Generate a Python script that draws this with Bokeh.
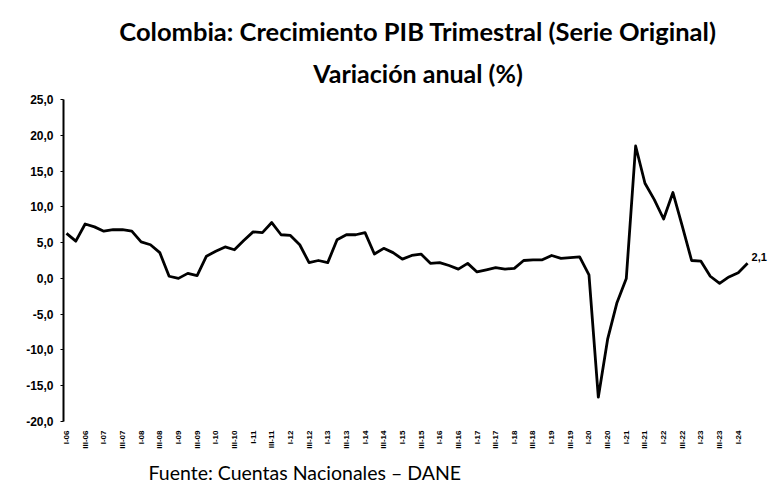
from bokeh.plotting import figure
from bokeh.models import Range1d, FixedTicker, Title, Label
from bokeh.embed import file_html
from bokeh.resources import INLINE

# Quarterly annual growth (%) of Colombian GDP, original series, Q1-2006 .. Q2-2024
values = [6.3, 5.2, 7.6, 7.2, 6.6, 6.8, 6.8, 6.6, 5.1, 4.7,
          3.6, 0.3, 0.0, 0.7, 0.4, 3.1, 3.8, 4.4, 4.0, 5.3,
          6.5, 6.4, 7.8, 6.1, 6.0, 4.7, 2.2, 2.5, 2.2, 5.4,
          6.1, 6.1, 6.4, 3.4, 4.2, 3.6, 2.7, 3.2, 3.4, 2.1,
          2.2, 1.8, 1.3, 2.1, 0.9, 1.2, 1.5, 1.3, 1.4, 2.5,
          2.6, 2.6, 3.2, 2.8, 2.9, 3.0, 0.5, -16.6, -8.5, -3.4,
          0.0, 18.5, 13.3, 11.0, 8.3, 12.0, 7.3, 2.5, 2.4, 0.3,
          -0.7, 0.2, 0.8, 2.1]
quarter_index = list(range(len(values)))

tick_labels = ["I-06", "III-06", "I-07", "III-07", "I-08", "III-08", "I-09", "III-09",
               "I-10", "III-10", "I-11", "III-11", "I-12", "III-12", "I-13", "III-13",
               "I-14", "III-14", "I-15", "III-15", "I-16", "III-16", "I-17", "III-17",
               "I-18", "III-18", "I-19", "III-19", "I-20", "III-20", "I-21", "III-21",
               "I-22", "III-22", "I-23", "III-23", "I-24"]
tick_positions = list(range(0, len(values), 2))

y_ticks = [25, 20, 15, 10, 5, 0, -5, -10, -15, -20]
y_tick_labels = ["25,0", "20,0", "15,0", "10,0", "5,0", "0,0", "-5,0", "-10,0", "-15,0", "-20,0"]

last_label = "2,1"

p = figure(width=772, height=491, output_backend="svg", toolbar_location=None,
           x_range=Range1d(-0.32, 75.67), y_range=Range1d(-20, 25),
           min_border_left=63, min_border_right=0, min_border_top=99, min_border_bottom=70)
p.outline_line_color = None
p.grid.grid_line_color = None
p.background_fill_color = "white"
p.border_fill_color = "white"

p.line(quarter_index, values, line_color="black", line_width=2.8, line_join="round")

p.add_layout(Label(x=quarter_index[-1], y=values[-1], text=last_label, x_offset=4, y_offset=2,
                   text_font="Liberation Sans", text_font_style="bold", text_font_size="11px",
                   text_baseline="bottom", text_color="black"))

# y axis
p.yaxis.ticker = FixedTicker(ticks=y_ticks)
p.yaxis.major_label_overrides = {t: l for t, l in zip(y_ticks, y_tick_labels)}
p.yaxis.axis_line_color = "black"
p.yaxis.axis_line_width = 2
p.yaxis.major_tick_out = 3
p.yaxis.major_tick_in = 0
p.yaxis.minor_tick_line_color = None
p.yaxis.major_label_standoff = 7
p.yaxis.major_label_text_font = "Liberation Sans"
p.yaxis.major_label_text_font_style = "bold"
p.yaxis.major_label_text_font_size = "12px"
p.yaxis.major_label_text_color = "black"

# x axis
p.xaxis.ticker = FixedTicker(ticks=tick_positions)
p.xaxis.major_label_overrides = {t: l for t, l in zip(tick_positions, tick_labels)}
p.xaxis.major_label_orientation = 1.5708
p.xaxis.axis_line_color = None
p.xaxis.major_tick_line_color = None
p.xaxis.minor_tick_line_color = None
p.xaxis.major_label_standoff = 3
p.xaxis.major_label_text_font = "Liberation Sans"
p.xaxis.major_label_text_font_size = "8px"
p.xaxis.major_label_text_font_style = "bold"
p.xaxis.major_label_text_color = "black"

# titles
p.add_layout(Title(text="Variación anual (%)", align="center", text_font="Lato",
                   text_font_style="bold", text_font_size="25px", text_color="black",
                   standoff=24), "above")
p.add_layout(Title(text="Colombia: Crecimiento PIB Trimestral (Serie Original)", align="center",
                   text_font="Lato", text_font_style="bold", text_font_size="25.5px",
                   text_color="black", standoff=-5), "above")
p.add_layout(Title(text="Fuente: Cuentas Nacionales – DANE", align="left", offset=85,
                   text_font="Lato", text_font_style="normal", text_font_size="19.5px",
                   text_color="black", standoff=14), "below")

open("out.html", "w").write(file_html(p, INLINE))
